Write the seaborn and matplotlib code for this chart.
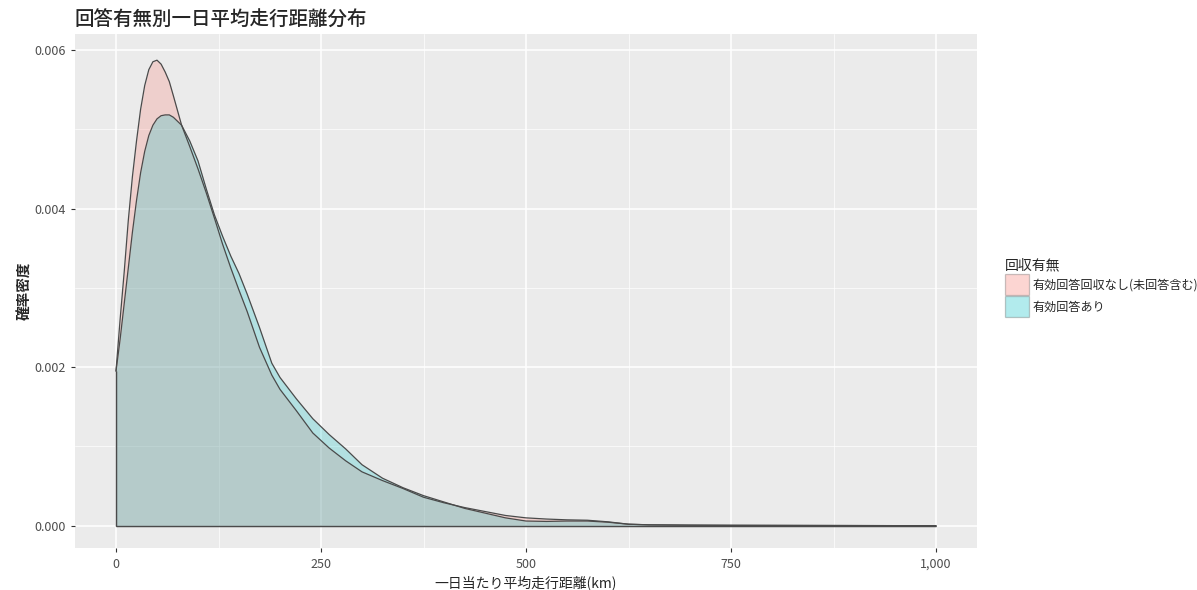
"""Density of mean daily driving distance, by whether a valid answer was returned."""

import matplotlib

matplotlib.use("Agg")

import matplotlib.pyplot as plt
import numpy as np
import pandas as pd
import seaborn as sns
from matplotlib.patches import Patch

# density curves (density in units of 1e-3)
distance_km = [0, 5, 10, 15, 20, 25, 30, 35, 40, 45, 50, 55, 60, 65, 70, 80, 90,
               100, 110, 120, 130, 140, 150, 160, 175, 190, 200, 220, 240, 260,
               280, 300, 325, 350, 375, 400, 425, 450, 475, 500, 525, 550, 575,
               600, 625, 650, 700, 750, 800, 850, 900, 950, 1000]
density_none = [1.95, 2.6, 3.2, 3.85, 4.4, 4.85, 5.25, 5.55, 5.75, 5.85, 5.87,
                5.82, 5.72, 5.6, 5.42, 5.05, 4.78, 4.5, 4.2, 3.88, 3.55, 3.25,
                2.97, 2.7, 2.25, 1.9, 1.72, 1.45, 1.17, 0.98, 0.82, 0.68, 0.57,
                0.47, 0.36, 0.29, 0.23, 0.18, 0.13, 0.10, 0.085, 0.075, 0.07,
                0.05, 0.02, 0.012, 0.008, 0.006, 0.005, 0.004, 0.003, 0.002, 0.001]
density_valid = [1.95, 2.35, 2.8, 3.25, 3.7, 4.1, 4.45, 4.72, 4.92, 5.05, 5.13,
                 5.17, 5.18, 5.18, 5.15, 5.05, 4.85, 4.6, 4.25, 3.92, 3.65, 3.4,
                 3.18, 2.92, 2.5, 2.05, 1.87, 1.6, 1.35, 1.15, 0.97, 0.77, 0.6,
                 0.48, 0.38, 0.3, 0.22, 0.16, 0.1, 0.06, 0.055, 0.06, 0.06,
                 0.045, 0.02, 0.012, 0.008, 0.006, 0.005, 0.004, 0.003, 0.002, 0.001]

groups = ["有効回答回収なし(未回答含む)", "有効回答あり"]
colors = {groups[0]: "#F8766D", groups[1]: "#00BFC4"}
x_ticks = [0, 250, 500, 750, 1000]
x_tick_labels = ["0", "250", "500", "750", "1,000"]
y_ticks = [0.000, 0.002, 0.004, 0.006]

FILL_ALPHA = 0.24
EDGE = "#4a4a4a"


def build_frame() -> pd.DataFrame:
    parts = []
    for name, dens in zip(groups, [density_none, density_valid]):
        parts.append(pd.DataFrame({
            "distance": distance_km,
            "density": np.asarray(dens) / 1000.0,
            "group": name,
        }))
    return pd.concat(parts, ignore_index=True)


def main() -> None:
    sns.set_theme(style="darkgrid")
    plt.rcParams["font.family"] = ["Noto Sans CJK JP", "DejaVu Sans"]

    df = build_frame()

    fig = plt.figure(figsize=(11.97, 5.90), dpi=100)
    ax = fig.add_axes([75 / 1197, 42 / 590, 902 / 1197, 514 / 590])
    ax.set_facecolor("#EBEBEB")

    for name in groups:
        sub = df[df["group"] == name]
        ax.fill_between(sub["distance"], sub["density"], 0,
                        color=colors[name], alpha=FILL_ALPHA, linewidth=0)
        ax.vlines(sub["distance"].iloc[0], 0, sub["density"].iloc[0],
                  color=EDGE, linewidth=0.9)
        ax.hlines(0, sub["distance"].min(), sub["distance"].max(),
                  color=EDGE, linewidth=0.9)

    sns.lineplot(data=df, x="distance", y="density", hue="group",
                 palette={g: EDGE for g in groups}, linewidth=0.9,
                 sort=False, legend=False, ax=ax, zorder=3)

    ax.set_xlim(-50, 1050)
    ax.set_ylim(-0.00028, 0.0062)
    ax.set_xticks(x_ticks)
    ax.set_xticklabels(x_tick_labels)
    ax.set_yticks(y_ticks)
    ax.set_yticklabels([f"{v:.3f}" for v in y_ticks])
    ax.set_xticks([125, 375, 625, 875], minor=True)
    ax.set_yticks([0.001, 0.003, 0.005], minor=True)
    ax.grid(which="major", color="white", linewidth=1.1)
    ax.grid(which="minor", color="white", linewidth=0.5)
    ax.tick_params(axis="both", which="major", labelsize=9, labelcolor="#4D4D4D",
                   length=3, width=0.8, color="#333333", pad=4,
                   bottom=True, left=True)
    ax.tick_params(axis="both", which="minor", length=0)
    for spine in ax.spines.values():
        spine.set_visible(False)

    ax.set_xlabel("一日当たり平均走行距離(km)", fontsize=10, labelpad=3)
    ax.set_ylabel("確率密度", fontsize=10.5, fontweight="bold", labelpad=1)

    fig.text(75 / 1197, 1 - 20 / 590, "回答有無別一日平均走行距離分布",
             fontsize=14, fontweight="medium", va="center", ha="left")

    handles = [Patch(facecolor=colors[g], alpha=FILL_ALPHA + 0.06,
                     edgecolor=EDGE, linewidth=0.9) for g in groups]
    leg = fig.legend(handles, groups, title="回収有無", loc="upper left",
                     bbox_to_anchor=(1000 / 1197, 1 - 254 / 590), frameon=False,
                     fontsize=8.7, title_fontsize=10, handlelength=2.0,
                     handleheight=2.3, handletextpad=0.3, labelspacing=0.1,
                     borderaxespad=0)
    leg._legend_box.align = "left"

    fig.savefig("out.png", dpi=100)
    plt.close(fig)


if __name__ == "__main__":
    main()
